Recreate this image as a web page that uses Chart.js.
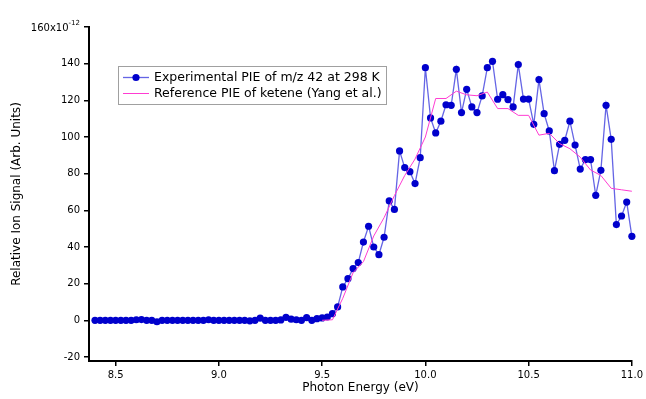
<!DOCTYPE html>
<html>
<head>
<meta charset="utf-8">
<script src="https://cdn.jsdelivr.net/npm/chart.js@4.4.1/dist/chart.umd.min.js"></script>
<style>
  html, body { margin: 0; padding: 0; background: #fff; }
  #wrap { width: 646px; height: 399px; }
</style>
</head>
<body>
<div id="wrap"><canvas id="pieChart" width="646" height="399"></canvas></div>
<script>
// photon energies (eV) of the measured PIE
const energies = [
    8.400, 8.425, 8.450, 8.475, 8.500, 8.525, 8.550, 8.575, 8.600, 8.625,
    8.650, 8.675, 8.700, 8.725, 8.750, 8.775, 8.800, 8.825, 8.850, 8.875,
    8.900, 8.925, 8.950, 8.975, 9.000, 9.025, 9.050, 9.075, 9.100, 9.125,
    9.150, 9.175, 9.200, 9.225, 9.250, 9.275, 9.300, 9.325, 9.350, 9.375,
    9.400, 9.425, 9.450, 9.475, 9.500, 9.525, 9.550, 9.575, 9.600, 9.625,
    9.650, 9.675, 9.700, 9.725, 9.750, 9.775, 9.800, 9.825, 9.850, 9.875,
    9.900, 9.925, 9.950, 9.975, 10.000, 10.025, 10.050, 10.075, 10.100, 10.125,
    10.150, 10.175, 10.200, 10.225, 10.250, 10.275, 10.300, 10.325, 10.350, 10.375,
    10.400, 10.425, 10.450, 10.475, 10.500, 10.525, 10.550, 10.575, 10.600, 10.625,
    10.650, 10.675, 10.700, 10.725, 10.750, 10.775, 10.800, 10.825, 10.850, 10.875,
    10.900, 10.925, 10.950, 10.975, 11.000
];

// experimental signal, units of 1e-12
const experimental = [
    0, 0, 0, 0, 0, 0, 0, 0, 0.3, 0.4,
    0, 0, -0.8, 0, 0, 0, 0, 0, 0, 0,
    0, 0, 0.3, 0, 0, 0, 0, 0, 0, 0,
    -0.3, 0, 1.2, 0, 0, 0, 0.2, 1.6, 0.6, 0.3,
    0, 1.5, 0, 0.9, 1.3, 1.8, 3.6, 7.3, 18.2, 22.7,
    28.2, 31.5, 42.7, 51.3, 40, 35.8, 45.3, 65.1, 60.5, 92.4,
    83.3, 81.1, 74.6, 88.7, 137.8, 110.4, 102.2, 108.6, 117.6, 117.3,
    136.9, 113.3, 126, 116.4, 113.3, 122.4, 137.8, 141.3, 120.6, 123.1,
    120.4, 116.4, 139.5, 120.7, 120.7, 106.9, 131.3, 112.7, 103.3, 81.6,
    96, 98.2, 108.6, 95.6, 82.5, 87.7, 87.7, 68.2, 81.8, 117.3,
    98.7, 52.2, 56.9, 64.5, 45.8
];

// reference ketene PIE (Yang et al.)
const refEnergies = [
    9.50, 9.55, 9.60, 9.65, 9.70, 9.75, 9.80, 9.85, 9.90, 9.95,
    10.00, 10.05, 10.10, 10.15, 10.20, 10.25, 10.30, 10.35, 10.40, 10.45,
    10.50, 10.55, 10.60, 10.65, 10.70, 10.75, 10.80, 10.85, 10.90, 10.95,
    11.00
];
const reference = [
    0, 0.3, 12, 26, 32, 46, 56, 68, 79, 88,
    100, 121, 121, 125, 123, 122.5, 124.5, 115.5, 115.5, 111.8,
    111.8, 101, 102, 96.4, 93.6, 89, 82, 79, 72, 71.2,
    70.4
];

const xTicks = [8.5, 9.0, 9.5, 10.0, 10.5, 11.0];
const yTicks = [-20, 0, 20, 40, 60, 80, 100, 120, 140, 160];

const FONT = '"DejaVu Sans", "Liberation Sans", sans-serif';
const BLUE_LINE = 'rgba(50, 50, 220, 0.75)';
const BLUE_DOT = '#0000cc';
const PINK = '#ff3cd2';

// legend box + the 160x10^-12 top label
const overlay = {
    id: 'overlay',
    afterDraw(chart) {
        const ctx = chart.ctx;
        const ys = chart.scales.y;
        const ty = ys.getPixelForValue(160);
        const right = ys.right - 9;
        ctx.save();
        ctx.fillStyle = '#000';
        ctx.textBaseline = 'middle';
        ctx.textAlign = 'right';
        ctx.font = '7px ' + FONT;
        ctx.fillText('-12', right, ty - 4);
        const w = ctx.measureText('-12').width;
        ctx.font = '10px ' + FONT;
        ctx.fillText('160x10', right - w, ty + 1);

        // legend
        ctx.fillStyle = '#fff';
        ctx.fillRect(118, 66, 268, 38);
        ctx.strokeStyle = '#a0a0a0';
        ctx.lineWidth = 1;
        ctx.strokeRect(118.5, 66.5, 268, 38);

        ctx.lineWidth = 1.3;
        ctx.strokeStyle = BLUE_LINE;
        ctx.beginPath(); ctx.moveTo(123, 77.5); ctx.lineTo(149, 77.5); ctx.stroke();
        ctx.fillStyle = BLUE_DOT;
        ctx.beginPath(); ctx.arc(136, 77.5, 3.6, 0, Math.PI * 2); ctx.fill();

        ctx.lineWidth = 1;
        ctx.strokeStyle = PINK;
        ctx.beginPath(); ctx.moveTo(123, 93.5); ctx.lineTo(149, 93.5); ctx.stroke();

        ctx.fillStyle = '#000';
        ctx.textAlign = 'left';
        ctx.font = '12.5px ' + FONT;
        ctx.fillText('Experimental PIE of m/z 42 at 298 K', 154, 77.5);
        ctx.fillText('Reference PIE of ketene (Yang et al.)', 154, 93.5);
        ctx.restore();
    }
};

const ctx = document.getElementById('pieChart').getContext('2d');
new Chart(ctx, {
    type: 'line',
    data: {
        datasets: [
            {
                label: 'Reference PIE of ketene (Yang et al.)',
                data: refEnergies.map((e, i) => ({ x: e, y: reference[i] })),
                borderColor: PINK,
                borderWidth: 1,
                pointRadius: 0,
                fill: false,
                tension: 0,
                clip: false,
                order: 0
            },
            {
                label: 'Experimental PIE of m/z 42 at 298 K',
                data: energies.map((e, i) => ({ x: e, y: experimental[i] })),
                borderColor: BLUE_LINE,
                borderWidth: 1.3,
                pointRadius: 3.6,
                pointBackgroundColor: BLUE_DOT,
                pointBorderColor: BLUE_DOT,
                pointBorderWidth: 0,
                fill: false,
                tension: 0,
                clip: false,
                order: 1
            }
        ]
    },
    options: {
        responsive: false,
        animation: false,
        layout: { padding: { top: 27, right: 13, left: 0, bottom: 0 } },
        plugins: { legend: { display: false }, tooltip: { enabled: false } },
        scales: {
            x: {
                type: 'linear',
                min: 8.371,
                max: 11.0,
                afterBuildTicks: s => { s.ticks = xTicks.map(v => ({ value: v })); },
                afterFit: s => { s.height = 38; },
                border: { color: '#000', width: 2 },
                grid: { drawOnChartArea: false, drawTicks: true, tickLength: 5, color: '#000', lineWidth: 1.5 },
                ticks: {
                    color: '#000',
                    padding: 3,
                    maxRotation: 0,
                    font: { family: FONT, size: 10 },
                    callback: v => v.toFixed(1)
                },
                title: {
                    display: true,
                    text: 'Photon Energy (eV)',
                    color: '#000',
                    font: { family: FONT, size: 12 },
                    padding: 4
                }
            },
            y: {
                type: 'linear',
                min: -22.2,
                max: 160,
                afterBuildTicks: s => { s.ticks = yTicks.map(v => ({ value: v })); },
                afterFit: s => { s.width = 89; },
                border: { color: '#000', width: 2 },
                grid: { drawOnChartArea: false, drawTicks: true, tickLength: 5, color: '#000', lineWidth: 1.5 },
                ticks: {
                    color: '#000',
                    padding: 4,
                    font: { family: FONT, size: 10 },
                    callback: v => (v === 160 ? '' : String(v))
                },
                title: {
                    display: true,
                    text: 'Relative Ion Signal (Arb. Units)',
                    color: '#000',
                    font: { family: FONT, size: 12 },
                    padding: 10
                }
            }
        }
    },
    plugins: [overlay]
});
</script>
</body>
</html>
